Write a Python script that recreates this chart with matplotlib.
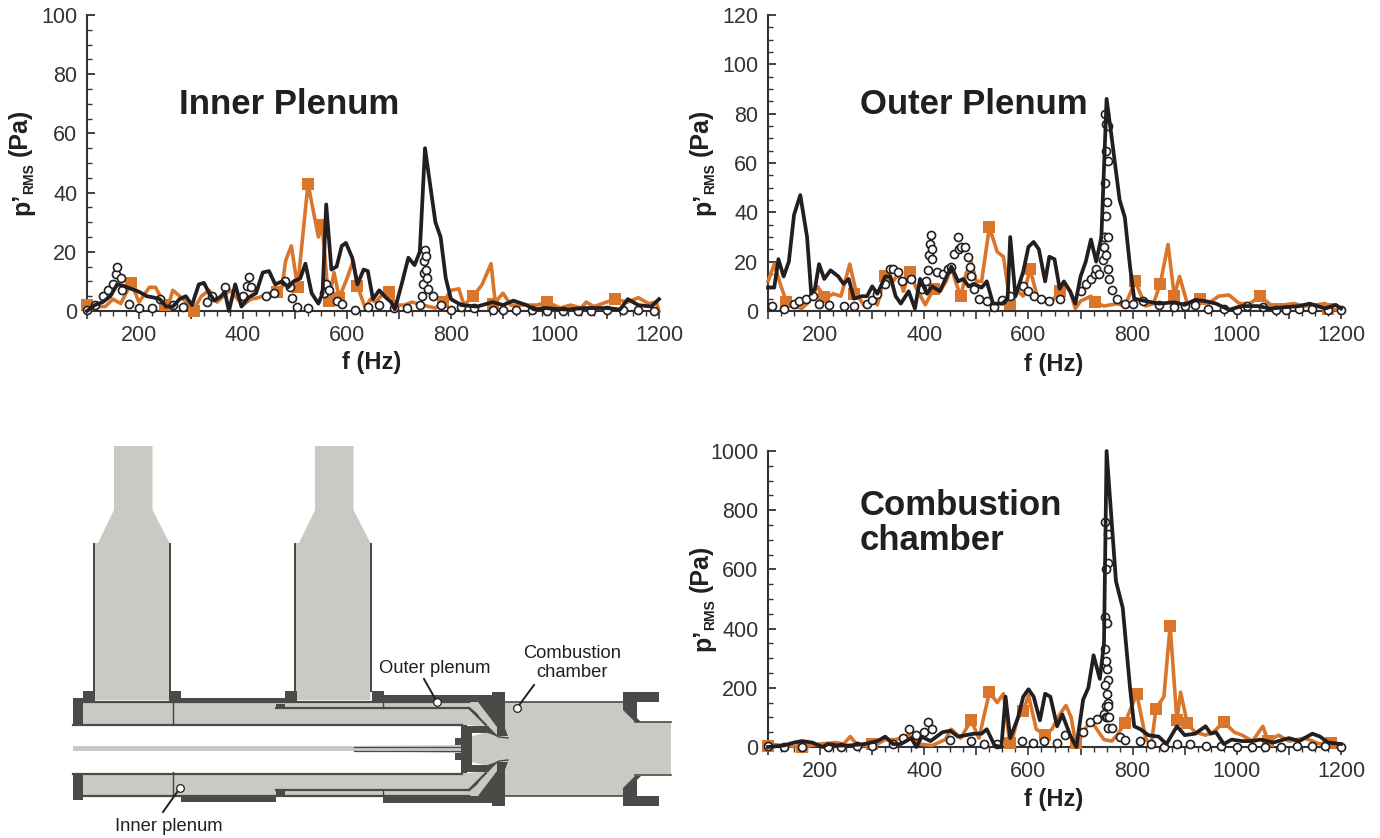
import matplotlib
matplotlib.use('Agg')
import matplotlib.pyplot as plt
from matplotlib.patches import Polygon, Rectangle

plt.rcParams['font.family'] = ['Liberation Sans', 'DejaVu Sans']

W, H = 1380, 838
BLACK = '#231f20'
ORANGE = '#d9762b'
GRAY = '#cbc9c4'
DARK = '#484b47'

# Inner plenum
inner_black_f = [100, 115, 130, 145, 158, 170, 185, 200, 215, 230, 240, 252, 265, 278, 290, 302, 315, 325, 335, 345, 358, 365, 373, 385, 397, 410, 425, 438, 450, 462, 475, 487, 497, 510, 520, 532, 545, 553, 560, 570, 580, 590, 598, 610, 620, 632, 640, 650, 662, 675, 685, 692, 705, 718, 730, 740, 750, 770, 780, 790, 800, 820, 850, 880, 900, 920, 945, 960, 980, 1020, 1060, 1100, 1125, 1140, 1160, 1185, 1200]
inner_black_v = [0, 2, 3, 5, 9, 8.5, 7.5, 6.5, 5, 4.5, 4, 1.5, 1.5, 4, 5, 2, 9, 9.5, 6, 3.5, 5, 6.5, 0, 9, 1.5, 4.5, 6, 13, 13.5, 9, 10, 8, 10, 11, 16, 6, 2.5, 6, 36, 14, 15, 22, 23, 18, 9, 14, 13.5, 4, 7, 4.5, 3, 0.5, 9, 18, 15.5, 20, 55, 30, 25, 11, 4, 2, 1.5, 3, 2, 3.5, 2, 0.5, 1, 0.5, 1, 1, 0.5, 4, 2, 1.5, 4]
inner_orange_f = [100, 115, 135, 150, 165, 185, 200, 220, 232, 245, 255, 265, 285, 305, 320, 335, 350, 375, 390, 400, 415, 430, 450, 465, 475, 482, 493, 505, 525, 545, 552, 565, 575, 585, 600, 612, 620, 635, 645, 655, 670, 680, 695, 710, 725, 745, 770, 785, 800, 815, 825, 843, 860, 877, 885, 900, 915, 940, 965, 985, 1010, 1030, 1050, 1060, 1075, 1115, 1140, 1160, 1180, 1195, 1200]
inner_orange_v = [2, 1.5, 1.5, 4, 2.5, 9.5, 3, 8, 8, 3.5, 1, 7, 4, 0.5, 5, 7, 3, 7, 4, 2, 4, 4.5, 6, 6.5, 8, 17, 22, 8, 43, 25, 29, 3.5, 13, 4.5, 11, 17, 8.5, 1, 4, 3, 6, 6.5, 2, 2, 3, 2, 1, 3, 7, 7.5, 2, 5, 9, 16, 3, 6, 2, 2, 2, 3, 1, 2, 1, 3, 1.5, 4, 3, 4.5, 2.5, 3, 0]
inner_square_f = [100, 185, 250, 305, 465, 505, 525, 552, 565, 585, 620, 680, 785, 843, 880, 985, 1115]
inner_square_v = [2, 9.5, 2, 0, 6.5, 8, 43, 29, 3.5, 4.5, 8.5, 6.5, 3, 5, 2.5, 3, 4]
inner_circle_f = [100, 115, 130, 140, 150, 155, 158, 165, 168, 180, 200, 225, 240, 265, 285, 330, 340, 365, 400, 408, 412, 415, 445, 460, 480, 490, 495, 503, 525, 555, 560, 565, 580, 590, 615, 640, 662, 690, 715, 740, 745, 747, 748, 749, 750, 751, 752, 753, 755, 765, 780, 800, 820, 845, 880, 900, 925, 955, 985, 1015, 1045, 1070, 1100, 1130, 1160, 1190]
inner_circle_v = [0.5, 2, 5, 7, 9, 12.5, 15, 11, 7, 2.5, 1, 1, 4, 2, 1.5, 3, 5, 8, 5, 8.5, 11.5, 8, 5, 6, 10, 8, 4.5, 1.5, 1, 6, 9, 7, 3.5, 2.5, 0.5, 1.5, 2, 1, 1, 2, 5, 9, 13, 17, 20.5, 18.5, 14, 11, 7.5, 5, 2, 0.5, 1.5, 1, 0.5, 0.5, 0.5, 0.5, 0, 0, 0, 0, 0.5, 0.5, 0.5, 0]

# Outer plenum
outer_black_f = [100, 112, 120, 130, 140, 150, 162, 175, 183, 190, 198, 208, 220, 235, 245, 255, 265, 280, 290, 300, 310, 325, 335, 345, 355, 370, 382, 392, 405, 415, 430, 445, 452, 465, 475, 485, 495, 510, 520, 532, 550, 560, 565, 575, 590, 600, 610, 620, 632, 640, 650, 660, 668, 680, 690, 700, 710, 720, 730, 740, 750, 760, 775, 785, 795, 803, 825, 850, 880, 900, 920, 940, 960, 985, 1010, 1040, 1065, 1090, 1120, 1140, 1170, 1190, 1200]
outer_black_v = [9.5, 9.5, 21, 14, 20, 39, 47, 30, 7, 9, 19, 13, 16.5, 14, 11, 13, 5, 6, 6, 10, 7, 14, 14, 6, 3, 8, 1, 13, 7, 10, 8, 15, 18, 12, 13, 10, 11, 9.5, 12, 3, 3, 5, 30, 6, 16, 26, 28, 25, 12, 22, 21, 9, 12, 8, 3, 14, 20, 29, 20, 30, 86, 70, 45, 38, 18, 5, 4, 3, 3.5, 2.5, 4.5, 4, 3, 0.5, 2, 2, 1, 1.5, 2, 3, 1, 2.5, 1]
outer_orange_f = [100, 112, 125, 135, 150, 165, 180, 195, 210, 225, 240, 257, 270, 285, 300, 310, 325, 340, 350, 360, 372, 385, 402, 418, 430, 442, 452, 460, 470, 480, 490, 500, 510, 525, 540, 552, 565, 580, 590, 603, 618, 630, 645, 660, 670, 680, 690, 700, 720, 727, 745, 770, 785, 805, 825, 840, 853, 868, 880, 890, 905, 930, 945, 965, 985, 1005, 1025, 1045, 1065, 1090, 1110, 1130, 1170, 1180, 1200]
outer_orange_v = [12, 19, 10, 4, 2, 1, 4, 10, 5, 7, 6, 19, 7, 2, 4, 2.5, 15, 12, 15, 8, 16, 9, 2.5, 9, 8, 12, 18, 12, 6, 15, 20, 12, 12, 34, 24, 22, 3, 8, 6, 17, 5, 5, 4, 8, 11, 8, 1, 4, 6, 3.5, 2, 3, 2, 12, 2, 3, 11, 27, 6, 14, 3, 5, 3, 6, 6.5, 3, 3, 6, 2.5, 2.5, 3, 2, 3, 1, 0]
outer_square_f = [135, 207, 265, 325, 372, 418, 470, 525, 565, 603, 660, 727, 805, 853, 880, 930, 1045, 1175]
outer_square_v = [3.5, 5.5, 7, 14, 16, 9, 6, 34, 3, 17, 8, 3.5, 12, 11, 6, 5, 6, 1]
outer_circle_f = [108, 130, 150, 160, 172, 187, 198, 217, 245, 265, 290, 300, 310, 325, 335, 340, 350, 358, 375, 395, 403, 408, 410, 411, 413, 414, 415, 425, 435, 445, 452, 458, 465, 466, 470, 478, 483, 488, 490, 495, 505, 520, 533, 550, 565, 590, 600, 610, 625, 640, 660, 700, 710, 720, 727, 730, 735, 743, 745, 747, 748, 746, 749, 752, 748, 752, 746, 751, 745, 749, 752, 753, 755, 760, 770, 785, 800, 820, 850, 880, 900, 920, 945, 975, 1000, 1020, 1050, 1075, 1095, 1120, 1145, 1175, 1200]
outer_circle_v = [2, 1, 3, 4, 5, 6, 3, 2.5, 2, 2, 3, 4.5, 7, 11, 17, 17, 16, 12, 13, 9, 12, 16.5, 22.5, 27, 31, 25, 21, 16, 15, 17, 18, 23, 30, 25, 26, 26, 22, 18, 14, 9, 5, 4, 1.5, 4.5, 6, 10, 8, 6, 5, 4, 5, 8, 11, 13, 15, 17, 15, 20.5, 26, 30, 38.5, 52, 65, 61, 76, 75, 80, 44, 30, 22.5, 30, 17, 13, 8.5, 5, 3, 3, 4, 2.5, 1.5, 2, 2.5, 1, 1, 0.5, 2, 1.5, 0.5, 0.5, 1, 1, 0.5, 0.5]

# Combustion chamber
comb_black_f = [100, 130, 150, 165, 185, 205, 215, 235, 255, 285, 310, 325, 340, 355, 375, 385, 395, 412, 435, 450, 465, 480, 495, 510, 520, 535, 548, 556, 565, 580, 590, 600, 610, 622, 632, 642, 655, 665, 680, 692, 705, 715, 725, 737, 745, 750, 768, 781, 795, 803, 815, 830, 850, 865, 885, 900, 920, 940, 950, 960, 975, 990, 1010, 1030, 1045, 1070, 1100, 1120, 1145, 1160, 1175, 1200]
comb_black_v = [0, 5, 15, 20, 15, 0, 10, 5, 5, 10, 20, 35, 10, 10, 30, 0, 35, 20, 50, 55, 35, 40, 45, 45, 60, 5, 0, 170, 30, 100, 170, 195, 170, 90, 180, 170, 70, 110, 40, 0, 160, 200, 310, 230, 350, 1000, 560, 470, 200, 70, 60, 40, 35, 10, 70, 40, 45, 70, 45, 50, 10, 25, 20, 20, 25, 15, 30, 20, 45, 35, 15, 10]
comb_orange_f = [100, 130, 165, 200, 230, 245, 258, 270, 300, 325, 345, 370, 390, 415, 440, 452, 470, 490, 505, 525, 540, 552, 565, 580, 590, 600, 615, 632, 645, 660, 672, 682, 692, 705, 720, 735, 745, 760, 770, 785, 808, 825, 835, 845, 860, 872, 885, 892, 905, 920, 940, 955, 975, 995, 1010, 1030, 1050, 1060, 1080, 1100, 1130, 1160, 1180, 1200]
comb_orange_v = [10, 5, 0, 10, 15, 10, 35, 10, 0, 25, 25, 40, 10, 5, 25, 60, 30, 90, 30, 185, 150, 180, 0, 100, 120, 175, 60, 40, 60, 110, 140, 100, 0, 50, 90, 50, 25, 20, 40, 80, 180, 30, 0, 130, 170, 410, 90, 185, 80, 50, 40, 50, 85, 50, 40, 20, 70, 20, 40, 20, 30, 10, 20, 0]
comb_square_f = [100, 165, 300, 490, 525, 565, 590, 632, 692, 785, 808, 845, 872, 885, 905, 975, 1060, 1180]
comb_square_v = [5, 0, 10, 90, 185, 15, 120, 40, 15, 80, 180, 130, 410, 90, 80, 85, 20, 15]
comb_circle_f = [100, 130, 165, 215, 240, 270, 300, 340, 360, 370, 385, 400, 408, 415, 450, 490, 515, 540, 588, 608, 630, 655, 670, 705, 718, 732, 745, 748, 752, 750, 752, 746, 750, 746, 749, 746, 750, 752, 748, 746, 752, 748, 752, 750, 752, 755, 760, 775, 785, 815, 835, 860, 885, 910, 940, 970, 1000, 1030, 1055, 1085, 1115, 1145, 1170, 1200]
comb_circle_v = [5, 0, 0, 0, 0, 5, 5, 10, 30, 60, 40, 50, 85, 60, 25, 20, 10, 10, 20, 15, 20, 15, 40, 50, 85, 95, 110, 140, 150, 180, 225, 210, 265, 330, 290, 440, 420, 620, 600, 760, 720, 100, 65, 100, 140, 100, 65, 35, 25, 20, 10, 0, 10, 10, 5, 5, 0, 0, 0, 0, 5, 5, 5, 0]

x_major = list(range(100, 1201, 100))
x_labels = [str(v) if v % 200 == 0 else '' for v in x_major]
x_minor = list(range(100, 1201, 25))

panels = [
    dict(box=(87, 15, 572, 296), ymax=100, major=20, minor=5, title='Inner Plenum', tx=179, ty=104, xlab_y=362,
         series=(inner_black_f, inner_black_v, inner_orange_f, inner_orange_v, inner_square_f, inner_square_v, inner_circle_f, inner_circle_v)),
    dict(box=(768, 15, 573, 296), ymax=120, major=20, minor=5, title='Outer Plenum', tx=860, ty=104, xlab_y=364,
         series=(outer_black_f, outer_black_v, outer_orange_f, outer_orange_v, outer_square_f, outer_square_v, outer_circle_f, outer_circle_v)),
    dict(box=(768, 451, 573, 296), ymax=1000, major=200, minor=50, title='Combustion\nchamber', tx=860, ty=523, xlab_y=799,
         series=(comb_black_f, comb_black_v, comb_orange_f, comb_orange_v, comb_square_f, comb_square_v, comb_circle_f, comb_circle_v)),
]

fig = plt.figure(figsize=(13.8, 8.38), dpi=100)

# background layer in pixel coordinates, for the burner sketch
bg = fig.add_axes([0, 0, 1, 1])
bg.set_xlim(0, W)
bg.set_ylim(H, 0)
bg.axis('off')


def poly(pts, color, z=1):
    bg.add_patch(Polygon(pts, closed=True, fc=color, ec='none', zorder=z))


def rect(x0, y0, x1, y1, color, z=2):
    bg.add_patch(Rectangle((x0, y0), x1 - x0, y1 - y0, fc=color, ec='none', zorder=z))


def mirror(y):
    return 1498 - y


# feed pipes
for x0 in (114, 315):
    x1 = x0 + 38.5
    poly([(x0, 446), (x1, 446), (x1, 510), (x1 + 17, 543), (x1 + 17, 700), (x0 - 20, 700), (x0 - 20, 543), (x0 - 16, 543), (x0, 510)], GRAY)
    rect(x0 - 21, 543, x0 - 19, 692, DARK)
    rect(x1 + 16, 543, x1 + 18, 692, DARK)

# plenum bodies, top half and its mirror image
for flip in (False, True):
    fy = mirror if flip else (lambda y: y)
    poly([(83, fy(702)), (492, fy(702)), (505, fy(730)), (470, fy(725)), (83, fy(725))], GRAY)
    rect(73, min(fy(698), fy(725)), 83, max(fy(698), fy(725)), DARK)
    bg.plot([73, 462], [fy(724.5), fy(724.5)], color=DARK, lw=1.6, zorder=3)
    # plenum divider
    bg.plot([276, 469, 487], [fy(708), fy(708), fy(723)], color=DARK, lw=1.6, zorder=3)
    bg.plot([83, 480], [fy(702), fy(702)], color=DARK, lw=1.6, zorder=3)
    # thick outer wall
    rect(383, min(fy(695), fy(702)), 480, max(fy(695), fy(702)), DARK)
    poly([(478, fy(695)), (492, fy(695)), (492, fy(692)), (505, fy(692)), (505, fy(728)), (508, fy(736)), (497, fy(736)), (497, fy(727)), (478, fy(702))], DARK, z=5)
    # passage round the injector
    poly([(470, fy(702)), (479, fy(702)), (497, fy(726)), (497, fy(736)), (487, fy(733)), (486, fy(727))], GRAY, z=3)
    bg.plot([469, 486], [fy(708), fy(725)], color=DARK, lw=1.6, zorder=4)
    # injector wall
    poly([(467, fy(726)), (488, fy(726)), (498, fy(736)), (487, fy(733)), (472, fy(733)), (472, fy(749)), (467, fy(749))], DARK, z=4)
    rect(461, min(fy(725), fy(749)), 467, max(fy(725), fy(749)), DARK, z=4)
    rect(455, min(fy(738), fy(745)), 461, max(fy(738), fy(745)), DARK, z=4)
    bg.plot([354, 460], [fy(747), fy(747)], color=DARK, lw=0.9, zorder=4)
    # swirl vanes
    bg.plot([488, 491, 499, 508], [fy(727), fy(733), fy(737), fy(738)], color=DARK, lw=1.0, zorder=6)
    # chamber flanges
    poly([(623, fy(692)), (659, fy(692)), (659, fy(702)), (637, fy(702)), (637, fy(718)), (641, fy(722)), (635, fy(722)), (623, fy(710))], DARK, z=5)

# upper and lower wall bars and collars
rect(179, 698, 286, 702, DARK)
rect(181, 795, 276, 802, DARK)
for x0, x1 in ((83, 95), (169, 181), (285, 297), (372, 384)):
    rect(x0, 691, x1, 702, DARK)
rect(276, 704, 285, 709, DARK)
rect(276, 789, 285, 796, DARK)
bg.plot([173, 173], [702, 724], color='#3a4450', lw=1.0, zorder=3)
bg.plot([173, 173], [772, 796], color='#3a4450', lw=1.0, zorder=3)
bg.plot([383, 383], [702, 708], color='#3a4450', lw=1.0, zorder=3)
bg.plot([383, 383], [790, 796], color='#3a4450', lw=1.0, zorder=3)

# white centre gap with the central rod
rect(73, 726, 461, 772, 'white', z=2)
rect(73, 746, 354, 751, GRAY, z=3)
poly([(354, 746), (461, 745), (461, 753), (354, 751)], GRAY, z=3)

# combustion chamber
poly([(505, 702), (637, 702), (637, 722), (671, 722), (671, 775), (637, 775), (637, 796), (505, 796), (505, 770), (508, 763), (484, 765), (472, 762), (472, 736), (484, 733), (508, 735), (505, 728)], GRAY, z=3)
bg.plot([505, 623], [702, 702], color=DARK, lw=1.2, zorder=4)
bg.plot([505, 623], [796, 796], color=DARK, lw=1.2, zorder=4)
bg.plot([635, 671], [722, 722], color=DARK, lw=1.2, zorder=4)
bg.plot([635, 671], [775, 775], color=DARK, lw=1.2, zorder=4)

# sketch labels
callouts = [
    ('Outer plenum', 435, 668, (437, 702), (424, 679)),
    ('Inner plenum', 169, 826, (180, 788), (163, 812)),
    ('Combustion\nchamber', 572, 663, (517, 708), (534, 685)),
]
for label, tx, ty, dot, end in callouts:
    bg.plot([dot[0], end[0]], [dot[1], end[1]], color=BLACK, lw=1.4, zorder=7)
    bg.plot(dot[0], dot[1], 'o', ms=5.5, mfc='white', mec=BLACK, mew=0.9, zorder=8)
    bg.text(tx, ty, label, ha='center', va='center', fontsize=13.2, color=BLACK, linespacing=1.15)

# spectra
for p in panels:
    x, y, w, h = p['box']
    ax = fig.add_axes([x / W, 1 - (y + h) / H, w / W, h / H])
    ax.patch.set_alpha(0)
    bf, bv, of, ov, sf, sv, cf, cv = p['series']
    ax.plot(of, ov, color=ORANGE, lw=2.6, zorder=3, clip_on=False)
    ax.plot(sf, sv, 's', color=ORANGE, ms=8.7, mew=0, zorder=4, clip_on=False)
    ax.plot(cf, cv, 'o', ms=5.8, mfc='white', mec=BLACK, mew=1.2, zorder=5, clip_on=False)
    ax.plot(bf, bv, color=BLACK, lw=2.7, zorder=6, clip_on=False)
    ax.set_xlim(100, 1200)
    ax.set_ylim(0, p['ymax'])
    ax.set_xticks(x_major)
    ax.set_xticklabels(x_labels)
    ax.set_xticks(x_minor, minor=True)
    ax.set_yticks(range(0, p['ymax'] + 1, p['major']))
    ax.set_yticks(range(0, p['ymax'] + 1, p['minor']), minor=True)
    ax.tick_params(axis='x', which='major', direction='out', length=6, width=1.2, color='#333333', labelsize=15.5, labelcolor='#333333', pad=4)
    ax.tick_params(axis='x', which='minor', direction='out', length=3.5, width=1, color='#333333')
    ax.tick_params(axis='y', which='major', direction='in', length=6, width=1.3, color='#333333', labelsize=15.5, labelcolor='#333333', pad=7)
    ax.tick_params(axis='y', which='minor', direction='in', length=3.5, width=1, color='#333333')
    for side in ('top', 'right'):
        ax.spines[side].set_visible(False)
    for side in ('left', 'bottom'):
        ax.spines[side].set_linewidth(1.5)
        ax.spines[side].set_color('#333333')

    fig.text((x + w / 2 - 1) / W, 1 - p['xlab_y'] / H, 'f (Hz)', ha='center', va='center', fontsize=17, fontweight='bold', color=BLACK)

    # y label in three pieces, the subscript is smaller
    y0 = y + h - 96
    fig.text((x - 65) / W, 1 - y0 / H, 'p’', rotation=90, ha='center', va='bottom', fontsize=18, fontweight='bold', color=BLACK)
    fig.text((x - 58) / W, 1 - (y0 - 21) / H, 'RMS', rotation=90, ha='center', va='bottom', fontsize=10, fontweight='bold', color=BLACK)
    fig.text((x - 67) / W, 1 - (y0 - 59) / H, '(Pa)', rotation=90, ha='center', va='bottom', fontsize=18, fontweight='bold', color=BLACK)

    fig.text(p['tx'] / W, 1 - p['ty'] / H, p['title'], ha='left', va='center', fontsize=25, fontweight='bold', color=BLACK, linespacing=1.05)

fig.savefig('out.png', dpi=100)
